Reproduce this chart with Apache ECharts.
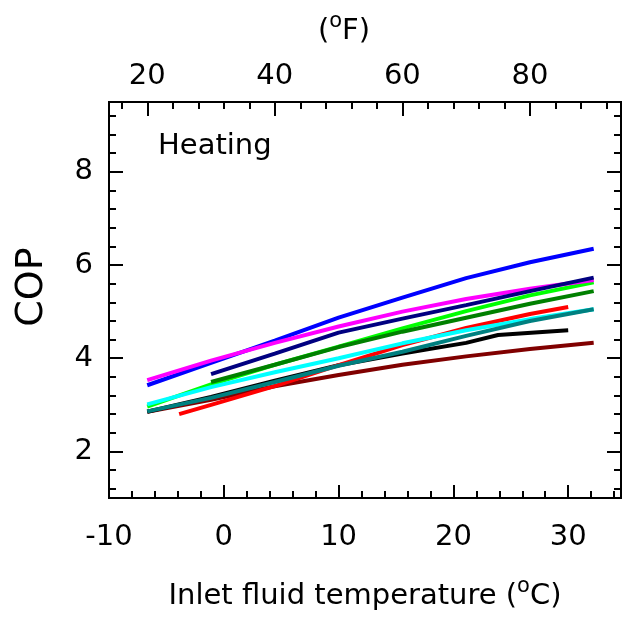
<!DOCTYPE html>
<html><head><meta charset="utf-8">
<script src="https://cdn.jsdelivr.net/npm/echarts@6/dist/echarts.min.js"></script>
<style>html,body{margin:0;padding:0;background:#fff}#c{width:630px;height:619px}</style>
</head><body><div id="c"></div><script>
// x positions (deg C) of the curve points
const tempC = [-6.67, -1.11, 4.44, 10, 15.56, 21.11, 26.67, 32.22];
const tempCShort = [-1.11, 4.44, 10, 15.56, 21.11, 26.67, 32.22];
const tempCRed = [-3.89, -1.11, 4.44, 10, 15.56, 21.11, 26.67, 30];
const tempCBlack = [-6.67, -1.11, 4.44, 10, 15.56, 21.11, 23.89, 30];

// COP values
const copMaroon = [2.85, 3.11, 3.40, 3.64, 3.86, 4.04, 4.20, 4.33];
const copBlack = [2.85, 3.17, 3.52, 3.85, 4.10, 4.33, 4.50, 4.60];
const copLime = [2.96, 3.44, 3.86, 4.25, 4.64, 5.01, 5.35, 5.63];
const copGreen = [3.49, 3.86, 4.24, 4.57, 4.87, 5.17, 5.44];
const copRed = [2.80, 3.00, 3.40, 3.85, 4.28, 4.65, 4.95, 5.10];
const copCyan = [3.01, 3.38, 3.70, 4.00, 4.32, 4.60, 4.84, 5.05];
const copTeal = [2.86, 3.15, 3.49, 3.84, 4.14, 4.48, 4.80, 5.05];
const copBlue = [3.42, 3.90, 4.38, 4.87, 5.30, 5.72, 6.06, 6.35];
const copMagenta = [3.53, 3.95, 4.33, 4.68, 5.00, 5.27, 5.49, 5.68];
const copNavy = [3.66, 4.10, 4.55, 4.85, 5.14, 5.44, 5.73];

// ticks
const xMajorTicks = [-10, 0, 10, 20, 30];
const xMinorTicks = [-8, -6, -4, -2, 2, 4, 6, 8, 12, 14, 16, 18, 22, 24, 26, 28, 32, 34];
const fMajorTicks = [20, 40, 60, 80];
const fMinorTicks = [16, 24, 28, 32, 36, 44, 48, 52, 56, 64, 68, 72, 76, 84, 88, 92];
const yMajorTicks = [2, 4, 6, 8];
const yMinorTicks = [1.2, 1.6, 2.4, 2.8, 3.2, 3.6, 4.4, 4.8, 5.2, 5.6, 6.4, 6.8, 7.2, 7.6, 8.4, 8.8, 9.2];

const X_MIN = -10, X_MAX = 34.6, Y_MIN = 1, Y_MAX = 9.5;
const F_MIN = X_MIN * 1.8 + 32, F_MAX = X_MAX * 1.8 + 32;

const FONT = 'DejaVu Sans';
const axisLine = {show: true, onZero: false, lineStyle: {color: '#000', width: 2}};
const txt = {color: '#000', fontFamily: FONT, fontSize: 29};
const supRich = {s: {fontSize: 21, fontFamily: FONT, color: '#000', padding: [0, 0, 20, 0]}};

function xAx(pos, min, max, ticks, len, labels, margin, extra) {
  return Object.assign({
    type: 'value', position: pos, min: min, max: max,
    axisLine: axisLine, splitLine: {show: false},
    axisTick: {show: true, inside: true, length: len, customValues: ticks, lineStyle: {color: '#000', width: 2}},
    axisLabel: labels ? Object.assign({show: true, customValues: labels, margin: margin}, txt) : {show: false}
  }, extra || {});
}

const chart = echarts.init(document.getElementById('c'), null, {renderer: 'canvas'});

function mk(xs, ys, color) {
  return {type: 'line', xAxisIndex: 0, yAxisIndex: 0, showSymbol: false, symbol: 'none',
    data: xs.map((x, i) => [x, ys[i]]), lineStyle: {color: color, width: 4}, itemStyle: {color: color},
    animation: false, z: 3};
}

chart.setOption({
  animation: false,
  backgroundColor: '#fff',
  title: {text: 'Heating', left: 158, top: 132, padding: 0,
    textStyle: {fontSize: 29, fontWeight: 'normal', fontFamily: FONT, color: '#000'}},
  grid: {left: 109, right: 9, top: 102, bottom: 121, containLabel: false},
  xAxis: [
    xAx('bottom', X_MIN, X_MAX, xMajorTicks, 13, xMajorTicks, 25, {
      name: 'Inlet fluid temperature ({s|o}C)', nameLocation: 'middle', nameGap: 78,
      nameTextStyle: Object.assign({rich: supRich}, txt)}),
    xAx('bottom', X_MIN, X_MAX, xMinorTicks, 7, null, 0),
    xAx('top', F_MIN, F_MAX, fMajorTicks, 14, fMajorTicks, 11, {
      name: '({s|o}F)', nameLocation: 'middle', nameGap: 50,
      nameTextStyle: Object.assign({rich: supRich, padding: [0, 42, 0, 0]}, txt)}),
    xAx('top', F_MIN, F_MAX, fMinorTicks, 7, null, 0)
  ],
  yAxis: [
    {type: 'value', position: 'left', min: Y_MIN, max: Y_MAX, axisLine: axisLine, splitLine: {show: false},
      axisTick: {show: true, inside: true, length: 14, customValues: yMajorTicks, lineStyle: {color: '#000', width: 2}},
      axisLabel: Object.assign({show: true, customValues: yMajorTicks, margin: 16}, txt),
      name: 'COP', nameLocation: 'middle', nameGap: 58, nameRotate: 90,
      nameTextStyle: {color: '#000', fontFamily: FONT, fontSize: 38, padding: [0, 0, 0, 26]}},
    {type: 'value', position: 'left', min: Y_MIN, max: Y_MAX, axisLine: axisLine, splitLine: {show: false},
      axisTick: {show: true, inside: true, length: 7, customValues: yMinorTicks, lineStyle: {color: '#000', width: 2}},
      axisLabel: {show: false}},
    {type: 'value', position: 'right', min: Y_MIN, max: Y_MAX, axisLine: axisLine, splitLine: {show: false},
      axisTick: {show: true, inside: true, length: 14, customValues: yMajorTicks, lineStyle: {color: '#000', width: 2}},
      axisLabel: {show: false}},
    {type: 'value', position: 'right', min: Y_MIN, max: Y_MAX, axisLine: axisLine, splitLine: {show: false},
      axisTick: {show: true, inside: true, length: 7, customValues: yMinorTicks, lineStyle: {color: '#000', width: 2}},
      axisLabel: {show: false}}
  ],
  series: [
    mk(tempC, copMaroon, '#800000'),
    mk(tempCBlack, copBlack, '#000000'),
    mk(tempC, copLime, '#00ff00'),
    mk(tempCShort, copGreen, '#008000'),
    mk(tempCRed, copRed, '#ff0000'),
    mk(tempC, copCyan, '#00ffff'),
    mk(tempC, copTeal, '#008080'),
    mk(tempC, copBlue, '#0000ff'),
    mk(tempC, copMagenta, '#ff00ff'),
    mk(tempCShort, copNavy, '#000080')
  ]
});
</script></body></html>
